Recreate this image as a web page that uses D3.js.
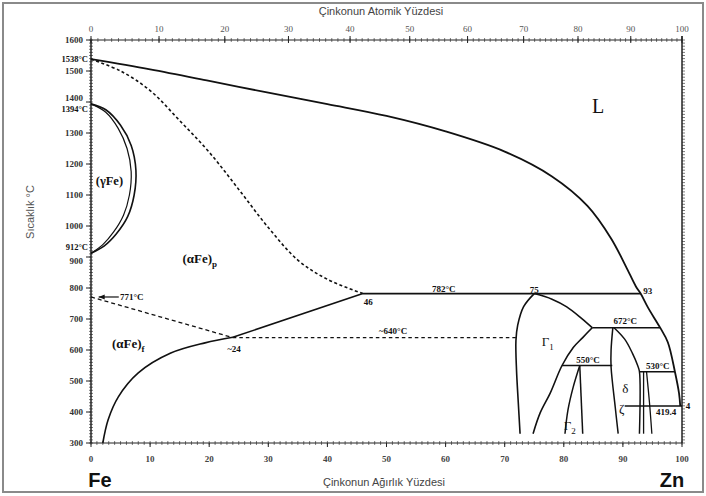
<!DOCTYPE html>
<html>
<head>
<meta charset="utf-8">
<script src="https://cdn.jsdelivr.net/npm/d3@7"></script>
<style>
  body { margin: 0; background: #fff; }
  svg { display: block; }
</style>
</head>
<body>
<svg id="chart"></svg>
<script>
// tick values
const tempTicks = [300, 400, 500, 600, 700, 800, 900, 1000, 1100, 1200, 1300, 1400, 1500, 1600];
const wtTicks = [0, 10, 20, 30, 40, 50, 60, 70, 80, 90, 100];
const atTicks = [0, 10, 20, 30, 40, 50, 60, 70, 80, 90, 100];
const specialTemps = [[1538, "1538°C"], [1394, "1394°C"], [912, "912°C"]];

// phase boundaries, [wt% Zn, °C]
const liquidus = [[0,1538],[10,1505],[20,1468],[30,1430],[40,1393],[50,1355],[60,1305],[70,1240],[78,1160],[84,1065],[88,960],[90.5,870],[92.2,805],[93,782],[94.3,735],[96.3,672],[97.6,625],[98.8,530],[99.5,460],[99.7,419.4]];
const alphaSolidus = [[0,1538],[5,1500],[10,1437],[15,1340],[20,1238],[25,1118],[30,995],[35,890],[40,828],[46,782]];
const gammaOuter = [[0,1394],[2.5,1375],[5,1325],[6.8,1260],[7.6,1180],[7.3,1100],[6.2,1030],[4.3,975],[2.2,935],[0,912]];
const gammaInner = [[0,1394],[2.5,1367],[4.6,1315],[6.1,1250],[6.8,1175],[6.5,1100],[5.5,1035],[3.8,980],[2,940],[0,912]];
const curieLine = [[0,771],[24,640]];
const alphaSolvus = [[2,300],[2.9,375],[4.6,448],[8,526],[13.5,590],[19.3,623],[24,641]];
const alphaUpper = [[24,641],[46,782]];
const line640 = [[24,640],[72,640]];
const line782 = [[46,782],[93,782]];
const gamma1Left = [[75,782],[73.2,740],[72.2,680],[71.9,630],[72,535],[72.3,430],[72.6,330]];
const gamma1Right = [[75,782],[78,764],[80.5,739],[83,702],[84.8,672]];
const line672 = [[84.8,672],[96.3,672]];
const gamma1Lower = [[84.8,672],[83.2,640],[81.6,608],[79.7,550],[77.7,461],[76,397],[74.8,330]];
const line550 = [[79.7,550],[88.2,550]];
const gamma2Left = [[82.7,550],[81.6,481],[80.7,406],[80.2,330]];
const gamma2Right = [[82.7,550],[83.2,330]];
const deltaLeft = [[88.3,672],[88,600],[88,545],[88.7,416],[89.2,330]];
const deltaRight = [[88.5,672],[90.3,635],[91.6,590],[92.5,550],[92.8,530],[92.8,330]];
const line530 = [[92.8,530],[98.8,530]];
const zetaLeft = [[93.5,530],[93.5,330]];
const zetaRight = [[94,530],[94.5,430],[94.9,330]];
const line419 = [[90.3,419.4],[100,419.4]];

// annotations, [wt% Zn, °C, text]
const notes = [
  [59.7, 797, "782°C"], [75, 794, "75"], [94.2, 790, "93"], [46.9, 755, "46"],
  [24.2, 603, "~24"], [51.1, 662, "~640°C"], [90.4, 694, "672°C"],
  [84.1, 568, "550°C"], [95.9, 548, "530°C"], [97.3, 400, "419.4"], [101, 418, "4"]
];
// phase labels, [wt% Zn, °C, text, subscript]
const phaseNotes = [
  [85.8, 1381, "L", ""], [18.4, 897, "(αFe)", "p"], [6.3, 623, "(αFe)", "f"],
  [77.3, 629, "Γ", "1"], [81, 358, "Γ", "2"], [90.4, 477, "δ", ""], [89.8, 413, "ζ", ""]
];

const W = 706, H = 496;
const svg = d3.select("#chart").attr("width", W).attr("height", H);

const x = d3.scaleLinear().domain([0, 100]).range([91, 682]);
const y = d3.scaleLinear().domain([300, 1600]).range([443, 40]);

// atomic % -> weight % Zn
const mFe = 55.845, mZn = 65.38;
const atToWt = a => 100 * a * mZn / (a * mZn + (100 - a) * mFe);

const serif = "'Liberation Serif', 'DejaVu Serif', serif";
const sans = "'Liberation Sans', Arial, sans-serif";

// outer frame
svg.append("rect")
   .attr("x", 3).attr("y", 3).attr("width", W - 6).attr("height", H - 7)
   .attr("fill", "none").attr("stroke", "#8a8a8a").attr("stroke-width", 2);

// axes
const axisG = svg.append("g").attr("stroke", "#222");
axisG.append("line").attr("x1", x(0)).attr("x2", x(0)).attr("y1", y(1600)).attr("y2", y(300)).attr("stroke-width", 1.5);
axisG.append("line").attr("x1", x(100)).attr("x2", x(100)).attr("y1", y(1600) - 4).attr("y2", y(300)).attr("stroke-width", 1.5);
axisG.append("line").attr("x1", x(0)).attr("x2", x(100)).attr("y1", y(300)).attr("y2", y(300)).attr("stroke-width", 1);
axisG.append("line").attr("x1", x(0)).attr("x2", x(100)).attr("y1", y(1600)).attr("y2", y(1600)).attr("stroke-width", 1);

// minor ticks
const minorT = d3.range(300, 1601, 10);
axisG.selectAll(".ml").data(minorT).enter().append("line")
   .attr("x1", x(0) - 2).attr("x2", x(0) + 2).attr("y1", d => y(d)).attr("y2", d => y(d)).attr("stroke-width", 0.6);
axisG.selectAll(".mr").data(minorT).enter().append("line")
   .attr("x1", x(100)).attr("x2", x(100) + 3).attr("y1", d => y(d)).attr("y2", d => y(d)).attr("stroke-width", 0.6);
const minorW = d3.range(0, 101, 1);
axisG.selectAll(".mb").data(minorW).enter().append("line")
   .attr("x1", d => x(d)).attr("x2", d => x(d)).attr("y1", y(300) - 2).attr("y2", y(300) + 2).attr("stroke-width", 0.6);
axisG.selectAll(".mt").data(minorW).enter().append("line")
   .attr("x1", d => x(atToWt(d))).attr("x2", d => x(atToWt(d))).attr("y1", y(1600) - 2).attr("y2", y(1600) + 2).attr("stroke-width", 0.6);

// major ticks
axisG.selectAll(".Ml").data(tempTicks).enter().append("line")
   .attr("x1", x(0) - 5).attr("x2", x(0)).attr("y1", d => y(d)).attr("y2", d => y(d)).attr("stroke-width", 1);
axisG.selectAll(".Mb").data(wtTicks).enter().append("line")
   .attr("x1", d => x(d)).attr("x2", d => x(d)).attr("y1", y(300)).attr("y2", y(300) + 4).attr("stroke-width", 1);
axisG.selectAll(".Mt").data(atTicks).enter().append("line")
   .attr("x1", d => x(atToWt(d))).attr("x2", d => x(atToWt(d))).attr("y1", y(1600) - 4).attr("y2", y(1600) + 3).attr("stroke-width", 1);

// tick labels (1400 and 900 nudged away from the special temperatures)
const nudge = { 1400: -4, 900: 4 };
svg.selectAll(".tl").data(tempTicks).enter().append("text")
   .attr("x", x(0) - 8).attr("y", d => y(d) + 3 + (nudge[d] || 0))
   .attr("text-anchor", "end").attr("font-family", serif).attr("font-weight", "bold")
   .attr("font-size", 9).attr("fill", "#333").text(d => d);
svg.selectAll(".st").data(specialTemps).enter().append("text")
   .attr("x", x(0) - 3).attr("y", d => y(d[0]) + (d[0] === 912 ? -3 : d[0] === 1394 ? 8 : 3))
   .attr("text-anchor", "end").attr("font-family", serif).attr("font-weight", "bold")
   .attr("font-size", 8.5).attr("fill", "#111").text(d => d[1]);
svg.selectAll(".bl").data(wtTicks).enter().append("text")
   .attr("x", d => x(d)).attr("y", y(300) + 19)
   .attr("text-anchor", "middle").attr("font-family", serif).attr("font-weight", "bold")
   .attr("font-size", 9).attr("fill", "#444").text(d => d);
svg.selectAll(".tt").data(atTicks).enter().append("text")
   .attr("x", d => x(atToWt(d))).attr("y", y(1600) - 8)
   .attr("text-anchor", "middle").attr("font-family", serif)
   .attr("font-size", 9).attr("fill", "#555").text(d => d);

// axis titles
svg.append("text").attr("x", 381).attr("y", 15).attr("text-anchor", "middle")
   .attr("font-family", sans).attr("font-size", 11).attr("fill", "#444").text("Çinkonun Atomik Yüzdesi");
svg.append("text").attr("x", 384).attr("y", 486).attr("text-anchor", "middle")
   .attr("font-family", sans).attr("font-size", 11).attr("fill", "#444").text("Çinkonun Ağırlık Yüzdesi");
svg.append("text").attr("transform", "translate(34,212) rotate(-90)").attr("text-anchor", "middle")
   .attr("font-family", sans).attr("font-size", 11).attr("fill", "#555").text("Sıcaklık °C");
svg.append("text").attr("x", 100).attr("y", 487).attr("text-anchor", "middle")
   .attr("font-family", sans).attr("font-weight", "bold").attr("font-size", 20).attr("fill", "#111").text("Fe");
svg.append("text").attr("x", 672).attr("y", 487).attr("text-anchor", "middle")
   .attr("font-family", sans).attr("font-weight", "bold").attr("font-size", 20).attr("fill", "#111").text("Zn");

// boundaries
const smooth = d3.line().x(d => x(d[0])).y(d => y(d[1])).curve(d3.curveCatmullRom.alpha(0.5));
const straight = d3.line().x(d => x(d[0])).y(d => y(d[1]));

const curves = [
  [liquidus, smooth, null, 1.8],
  [alphaSolidus, smooth, "3,2.5", 1.6],
  [gammaOuter, smooth, null, 1.6],
  [gammaInner, smooth, null, 1.2],
  [curieLine, straight, "4,3", 1.3],
  [alphaSolvus, smooth, null, 1.6],
  [alphaUpper, straight, null, 1.6],
  [line640, straight, "3.5,3", 1.2],
  [line782, straight, null, 1.6],
  [gamma1Left, smooth, null, 1.6],
  [gamma1Right, smooth, null, 1.6],
  [line672, straight, null, 1.6],
  [gamma1Lower, smooth, null, 1.6],
  [line550, straight, null, 1.6],
  [gamma2Left, smooth, null, 1.5],
  [gamma2Right, straight, null, 1.5],
  [deltaLeft, smooth, null, 1.5],
  [deltaRight, smooth, null, 1.5],
  [line530, straight, null, 1.5],
  [zetaLeft, straight, null, 1.3],
  [zetaRight, smooth, null, 1.3],
  [line419, straight, null, 1.3]
];

svg.append("g").selectAll("path").data(curves).enter().append("path")
   .attr("d", d => d[1](d[0]))
   .attr("fill", "none").attr("stroke", "#111")
   .attr("stroke-width", d => d[3])
   .attr("stroke-dasharray", d => d[2]);

// 771 leader with arrow
svg.append("line").attr("x1", x(1.3)).attr("x2", x(4.7)).attr("y1", y(771)).attr("y2", y(771))
   .attr("stroke", "#111").attr("stroke-width", 1.2);
svg.append("path")
   .attr("d", `M${x(1.3)},${y(771)} l6,-2.5 l0,5 z`).attr("fill", "#111");
svg.append("text").attr("x", x(4.9)).attr("y", y(771) + 3)
   .attr("font-family", serif).attr("font-weight", "bold").attr("font-size", 9).attr("fill", "#111").text("771°C");

// numeric notes
svg.selectAll(".nt").data(notes).enter().append("text")
   .attr("x", d => x(d[0])).attr("y", d => y(d[1]) + 3)
   .attr("text-anchor", "middle").attr("font-family", serif).attr("font-weight", "bold")
   .attr("font-size", 9).attr("fill", "#111").text(d => d[2]);

// phase labels
const ph = svg.selectAll(".ph").data(phaseNotes).enter().append("text")
   .attr("x", d => x(d[0])).attr("y", d => y(d[1]) + 5)
   .attr("text-anchor", "middle").attr("font-family", serif)
   .attr("font-weight", d => d[2] === "(αFe)" ? "bold" : "normal")
   .attr("font-size", d => d[2] === "L" ? 20 : 13).attr("fill", "#111");
ph.append("tspan").text(d => d[2]);
ph.append("tspan").attr("dy", 4).attr("font-size", 9).text(d => d[3]);

// gamma loop label
svg.append("text").attr("x", x(0.8)).attr("y", y(1145) + 4)
   .attr("font-family", serif).attr("font-weight", "bold").attr("font-size", 12.5).attr("fill", "#111").text("(γFe)");
</script>
</body>
</html>
